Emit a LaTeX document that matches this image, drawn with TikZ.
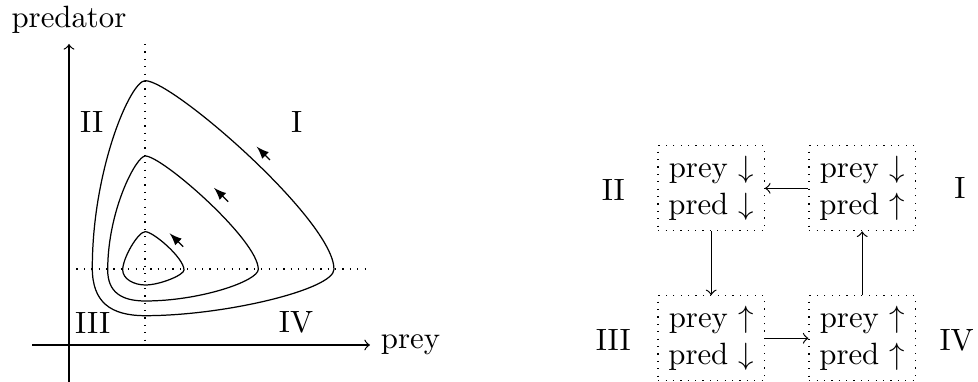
\documentclass[tikz,border=0pt]{standalone}
\usetikzlibrary{arrows}
\begin{document}
\begin{tikzpicture}[x=0.3247pt,y=-0.3247pt,
  statebox/.style={draw,dotted,align=center},
  flow/.style={-latex},
  guide/.style={dotted}]
\useasboundingbox (0,0) rectangle (978,382);
% axes
\coordinate (xs) at (32,345);
\coordinate (xe) at (370,345);
\coordinate (ys) at (69,385);
\coordinate (ye) at (69,44);
\draw[->] (xs) -- (xe) node[right] (preyl) {prey};
\draw[->] (ys) -- (ye) node[above] (predl) {predator};
% guide lines through equilibrium
\coordinate (vt) at (145,44);
\coordinate (vb) at (145,345);
\coordinate (hl) at (69,269);
\coordinate (hr) at (372,269);
\draw[guide] (vt) -- (vb);
\draw[guide] (hl) -- (hr);
% orbits
\draw (145.3,80.7) .. controls (173,80.7) and (334,221) .. (334,269.3)
  .. controls (334,289.3) and (225.3,315.7) .. (145.3,315.7)
  .. controls (110.3,315.7) and (92.3,302) .. (92.3,268)
  .. controls (92.3,170) and (130.3,80.7) .. cycle;
\draw (145.3,156) .. controls (162.3,156) and (258.3,240.3) .. (258.3,269.3)
  .. controls (258.3,281) and (200.3,301) .. (145.3,301)
  .. controls (121.3,301) and (107.7,292) .. (107.7,270)
  .. controls (107.7,210) and (136.3,156) .. cycle;
\draw (145.3,231.7) .. controls (153.3,231.7) and (184,258) .. (184,270)
  .. controls (184,275) and (160,285) .. (145.3,285)
  .. controls (134,285) and (122.7,279) .. (122.7,270)
  .. controls (122.7,258) and (138,231.7) .. cycle;
% direction arrows
\coordinate (a1t) at (270,160);   \coordinate (a1h) at (256.7,146.7);
\coordinate (a2t) at (228.3,201.7); \coordinate (a2h) at (214,187.8);
\coordinate (a3t) at (183.3,246.7); \coordinate (a3h) at (169.6,233.3);
\draw[flow] (a1t) -- (a1h);
\draw[flow] (a2t) -- (a2h);
\draw[flow] (a3t) -- (a3h);
% quadrant labels
\node (qII) at (91.7,121.7) {II};
\node (qI) at (296.7,121.7) {I};
\node (qIII) at (92.7,322.7) {III};
\node (qIV) at (296,322.7) {IV};
% state diagram
\node[statebox] (II) at (711.2,188.3) {prey $\downarrow$\\pred $\downarrow$};
\node[statebox] (I) at (862.2,188.3) {prey $\downarrow$\\pred $\uparrow$};
\node[statebox] (III) at (711.2,338.3) {prey $\uparrow$\\pred $\downarrow$};
\node[statebox] (IV) at (862.2,338.3) {prey $\uparrow$\\pred $\uparrow$};
\draw[->] (I) -- (II);
\draw[->] (II) -- (III);
\draw[->] (III) -- (IV);
\draw[->] (IV) -- (I);
\node (lII) at (613.3,190) {II};
\node (lI) at (960,188.3) {I};
\node (lIII) at (613.3,340) {III};
\node (lIV) at (956.7,340) {IV};
\end{tikzpicture}
\end{document}
